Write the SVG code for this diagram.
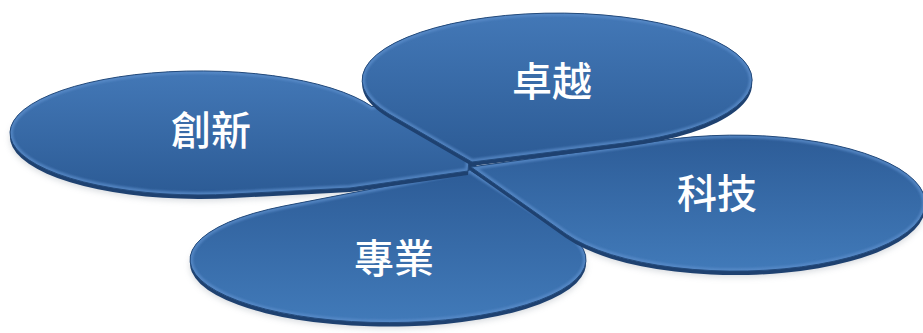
<svg xmlns="http://www.w3.org/2000/svg" width="923" height="333" viewBox="0 0 923 333">
<defs>
<linearGradient id="gDown" x1="0" y1="0" x2="0" y2="1">
<stop offset="0" stop-color="#4378b7"/>
<stop offset="1" stop-color="#2c5b95"/>
</linearGradient>
<linearGradient id="gUp" x1="0" y1="0" x2="0" y2="1">
<stop offset="0" stop-color="#2d5c97"/>
<stop offset="1" stop-color="#417ab9"/>
</linearGradient>
<filter id="sh" x="-10%" y="-20%" width="120%" height="150%">
<feGaussianBlur stdDeviation="3"/>
</filter>
<filter id="soft" x="-5%" y="-5%" width="110%" height="110%">
<feGaussianBlur stdDeviation="0.8"/>
</filter>
<path id="p1" d="M468,171 L470,150 L400,100 L372,106.6 A190,62 0 1 0 233,194 L350,188 Z"/>
<path id="p2" d="M472,162 L389,114 A195,67 0 1 1 624,143 Z"/>
<path id="p3" d="M471,167 L658,141 A190,68 0 1 1 566,234 Z"/>
<path id="p4" d="M470,170 L566,232 A198,63 0 1 1 284,206 Z"/>
<clipPath id="c1"><use href="#p1"/></clipPath>
<clipPath id="c2"><use href="#p2"/></clipPath>
<clipPath id="c3"><use href="#p3"/></clipPath>
<clipPath id="c4"><use href="#p4"/></clipPath>
</defs>
<style>
.shadow{fill:#9aa3ad;opacity:0.4;filter:url(#sh)}
.thick{fill:#1e4170}
.bevel{fill:none;stroke:#5c8dca;stroke-width:6;opacity:0.75;filter:url(#soft)}
.edge{fill:none;stroke:#234a7b;stroke-width:1}
.lbl{font-family:"Noto Sans CJK TC","Noto Sans CJK SC",sans-serif;font-size:40px;font-weight:500;fill:#ffffff;text-anchor:middle;dominant-baseline:central}
</style>
<g id="shadows">
<use href="#p4" class="shadow" transform="translate(0,6)"/>
<use href="#p3" class="shadow" transform="translate(0,6)"/>
<use href="#p1" class="shadow" transform="translate(0,6)"/>
<circle cx="470" cy="168" r="7" fill="#1e4170"/>
</g>
<g id="node-zhuanye">
<use href="#p4" class="thick" transform="translate(0,4)"/>
<use href="#p4" fill="url(#gUp)"/>
<g clip-path="url(#c4)"><use href="#p4" class="bevel"/></g>
<use href="#p4" class="edge"/>
<text class="lbl" x="394" y="256">專業</text>
</g>
<g id="node-keji">
<use href="#p3" class="thick" transform="translate(0,4)"/>
<use href="#p3" fill="url(#gUp)"/>
<g clip-path="url(#c3)"><use href="#p3" class="bevel"/></g>
<use href="#p3" class="edge"/>
<text class="lbl" x="717" y="191">科技</text>
</g>
<g id="node-chuangxin">
<use href="#p1" class="thick" transform="translate(0,4)"/>
<use href="#p1" fill="url(#gDown)"/>
<g clip-path="url(#c1)"><use href="#p1" class="bevel"/></g>
<use href="#p1" class="edge"/>
<text class="lbl" x="211" y="128">創新</text>
</g>
<g id="node-zhuoyue">
<use href="#p2" class="thick" transform="translate(0,4)"/>
<use href="#p2" fill="url(#gDown)"/>
<g clip-path="url(#c2)"><use href="#p2" class="bevel"/></g>
<use href="#p2" class="edge"/>
<text class="lbl" x="552" y="79">卓越</text>
</g>
<g id="connectors"/>
</svg>
